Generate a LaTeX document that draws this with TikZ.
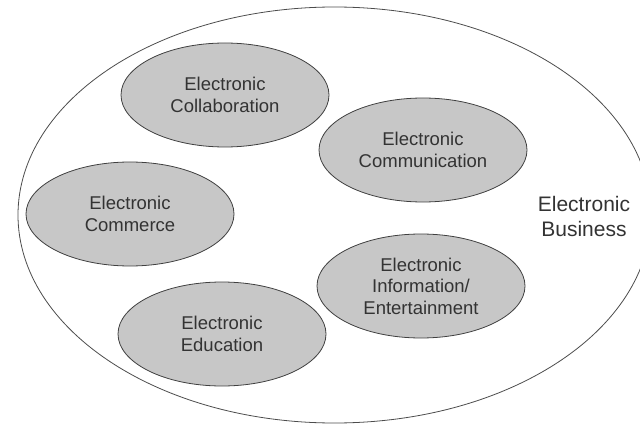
\documentclass[tikz,border=0pt]{standalone}
\usepackage{fontspec}
\setmainfont{Liberation Sans}
\usetikzlibrary{shapes.geometric}
\begin{document}
\begin{tikzpicture}[
    x=1pt, y=-1pt,
    every node/.style={align=center, text=black!80, font=\fontsize{18.5}{21.5}\selectfont},
    area/.style={ellipse, draw=black!75, fill=black!22, line width=0.8pt, inner sep=0pt, minimum width=208pt, minimum height=104pt},
    whole/.style={ellipse, draw=black!70, line width=0.8pt, inner sep=0pt, minimum width=633pt, minimum height=416pt}
]
  \useasboundingbox (0,0) rectangle (640,425);
  \clip (0,0) rectangle (640,425);

  \node[whole] (business) at (334.5,215) {};

  \node[area] (collab) at (225,95) {Electronic\\Collaboration};
  \node[area] (comm) at (423,150) {Electronic\\Communication};
  \node[area] (commerce) at (130,214) {Electronic\\Commerce};
  \node[area] (info) at (421,286) {Electronic\\Information/\\Entertainment};
  \node[area] (edu) at (222,334) {Electronic\\Education};

  % Labels
  \node[font=\fontsize{21}{25}\selectfont] (title) at (584,216) {Electronic\\Business};
\end{tikzpicture}
\end{document}
